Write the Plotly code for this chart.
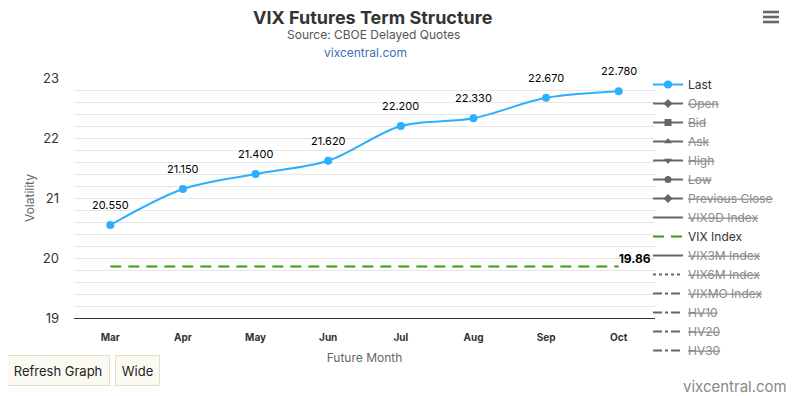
import plotly.graph_objects as go

months = ["Mar", "Apr", "May", "Jun", "Jul", "Aug", "Sep", "Oct"]
last = [20.550, 21.150, 21.400, 21.620, 22.200, 22.330, 22.670, 22.780]
vix_index = 19.86
y_ticks = [19, 20, 21, 22, 23]

hidden_markers = [("Open", "diamond"), ("Bid", "square"), ("Ask", "triangle-up"),
                  ("High", "triangle-down"), ("Low", "circle"), ("Previous Close", "diamond")]
hidden_lines_before = [("VIX9D Index", "solid")]
hidden_lines_after = [("VIX3M Index", "solid"), ("VIX6M Index", "dot"), ("VIXMO Index", "dashdot"),
                      ("HV10", "dashdot"), ("HV20", "dashdot"), ("HV30", "dashdot")]

FONT = "Inter, Roboto, sans-serif"
OFF = 8  # page body margin
L, R, T, B = 74, 655, 78, 318          # plot area in screenshot pixels
W, H = 797 - OFF, 396 - OFF
def px(x): return (x - L) / (R - L)
def py(y): return (B - y) / (B - T)

def struck(name):
    return f'<span style="color:#8a8a8a"><s>{name}</s></span>'

fig = go.Figure()
fig.add_trace(go.Scatter(
    x=months, y=last, name="Last", mode="lines+markers",
    line=dict(color="#2caffe", width=2, shape="spline", smoothing=0.9),
    marker=dict(size=8, color="#2caffe")))
for name, sym in hidden_markers:
    fig.add_trace(go.Scatter(x=months, y=[None] * len(months), name=struck(name),
                             mode="lines+markers", line=dict(color="#666666", width=2),
                             marker=dict(symbol=sym, size=7, color="#666666")))
for name, dash in hidden_lines_before:
    fig.add_trace(go.Scatter(x=months, y=[None] * len(months), name=struck(name), mode="lines",
                             line=dict(color="#666666", width=2, dash=dash)))
vix_text = [""] * (len(months) - 1) + [f"<b>{vix_index:.2f}</b>"]
fig.add_trace(go.Scatter(
    x=months, y=[vix_index] * len(months), name="VIX Index", mode="lines+text",
    line=dict(color="#3a9a12", width=2, dash="11px,7px"),
    text=vix_text, textposition="top right",
    textfont=dict(size=12, color="#000000", family=FONT), cliponaxis=False))
for name, dash in hidden_lines_after:
    fig.add_trace(go.Scatter(x=months, y=[None] * len(months), name=struck(name), mode="lines",
                             line=dict(color="#666666", width=2, dash=dash)))

annotations = [
    dict(x=m, y=v, xref="x", yref="y", text=f"{v:.3f}", showarrow=False, yshift=20,
         xanchor="center", yanchor="middle", font=dict(size=11, color="#000000", family=FONT))
    for m, v in zip(months, last)
]
def pa(text, x, y, size, color, **kw):
    d = dict(text=text, x=px(x), y=py(y), xref="paper", yref="paper", showarrow=False,
             xanchor="center", yanchor="middle", font=dict(size=size, color=color, family=FONT))
    d.update(kw)
    return d
annotations += [
    pa("<b>VIX Futures Term Structure</b>", 373, 17, 18, "#333333"),
    pa("Source: CBOE Delayed Quotes", 373, 34, 12, "#555555"),
    pa("vixcentral.com", 365, 53, 12, "#3d6fb0"),
    pa("vixcentral.com", 735, 386, 15, "#888888"),
    pa("Refresh Graph", 58, 370, 13, "#222222", bgcolor="#fafaf2", bordercolor="#e3dfc4",
       borderwidth=1, borderpad=6, width=90, height=17),
    pa("Wide", 137.5, 370, 13, "#222222", bgcolor="#fafaf2", bordercolor="#e3dfc4",
       borderwidth=1, borderpad=6, width=31, height=17),
]

shapes = []
for yy in (12, 17, 22):
    shapes.append(dict(type="rect", xref="paper", yref="paper",
                       x0=px(763), x1=px(779), y0=py(yy - 1.3), y1=py(yy + 1.3),
                       fillcolor="#666666", line=dict(width=0)))
shapes.append(dict(type="rect", xref="paper", yref="paper", x0=px(794), x1=px(798),
                   y0=py(398), y1=py(7), fillcolor="#f8f6ec", line=dict(width=0), layer="below"))

fig.update_layout(
    width=W, height=H,
    margin=dict(l=L - OFF, r=(W + OFF) - R, t=T - OFF, b=(H + OFF) - B, pad=0),
    paper_bgcolor="white", plot_bgcolor="white",
    font=dict(family=FONT, color="#333333"),
    showlegend=True,
    legend=dict(x=px(648), y=py(70), xanchor="left", yanchor="top",
                font=dict(size=12, color="#333333", family=FONT), maxheight=380,
                itemwidth=30, tracegroupgap=0, bgcolor="rgba(0,0,0,0)"),
    xaxis=dict(type="category", range=[-0.5, len(months) - 0.5], showgrid=False,
               tickfont=dict(size=10, color="#333333", family=FONT), ticks="",
               ticklabelstandoff=10,
               title=dict(text="Future Month", font=dict(size=12, color="#666666", family=FONT), standoff=10),
               showline=True, linecolor="#333333", linewidth=1, zeroline=False,
               tickprefix="<b>", ticksuffix="</b>"),
    yaxis=dict(range=[19, 23], tickvals=y_ticks, showgrid=True, gridcolor="#e6e6e6",
               tickfont=dict(size=13, color="#333333", family=FONT), ticks="",
               ticklabelstandoff=14,
               minor=dict(dtick=0.2, showgrid=True, gridcolor="#e6e6e6"),
               title=dict(text="Volatility", font=dict(size=12, color="#666666", family=FONT), standoff=5),
               zeroline=False, showline=False),
    annotations=annotations, shapes=shapes,
)

fig.write_html("out.html")
